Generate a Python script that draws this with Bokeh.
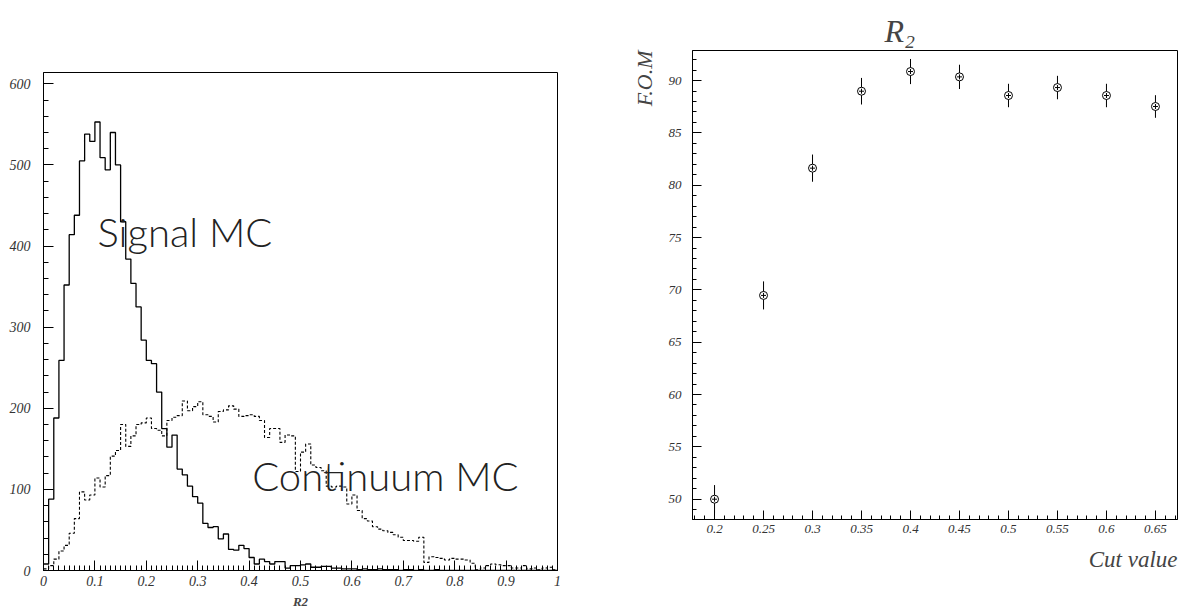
from bokeh.plotting import figure
from bokeh.layouts import row
from bokeh.models import FixedTicker, Label, Range1d, Title
from bokeh.embed import file_html
from bokeh.resources import INLINE

# ---------------- data ----------------
bin_lo = [round(i * 0.01, 2) for i in range(100)]
signal_mc = [8, 88, 188, 259, 352, 414, 438, 505, 538, 529,
             553, 509, 494, 540, 500, 430, 384, 354, 325, 284,
             259, 255, 220, 175, 152, 167, 125, 118, 104, 91,
             83, 58, 53, 54, 39, 45, 26, 25, 31, 27,
             16, 8, 14, 11, 8, 11, 11, 3, 6, 6,
             7, 8, 4, 4, 5, 5, 3, 3, 2, 2,
             2, 1, 2, 1, 1, 2, 1, 1, 1, 0,
             1, 1, 0, 1, 0, 0, 1, 0, 0, 0,
             0, 0, 0, 0, 0, 0, 0, 0, 0, 0,
             0, 0, 0, 0, 0, 0, 0, 0, 0, 0]
continuum_mc = [2, 6, 14, 24, 31, 46, 64, 97, 87, 93,
                114, 103, 117, 141, 148, 180, 153, 166, 180, 182,
                188, 175, 173, 166, 185, 189, 191, 209, 197, 202,
                208, 192, 190, 183, 196, 198, 203, 199, 190, 191,
                192, 190, 185, 164, 175, 175, 158, 167, 166, 122,
                146, 156, 130, 127, 123, 104, 103, 104, 103, 82,
                93, 74, 64, 61, 54, 51, 49, 47, 44, 41,
                37, 37, 36, 41, 10, 17, 16, 15, 13, 15,
                14, 14, 13, 9, 1, 3, 6, 8, 7, 6,
                6, 3, 3, 6, 2, 3, 1, 3, 4, 1]

left_xticks = [0, 0.1, 0.2, 0.3, 0.4, 0.5, 0.6, 0.7, 0.8, 0.9, 1.0]
left_xlabels = ["0", "0.1", "0.2", "0.3", "0.4", "0.5", "0.6", "0.7", "0.8", "0.9", "1"]
left_yticks = [0, 100, 200, 300, 400, 500, 600]

cut_value = [0.2, 0.25, 0.3, 0.35, 0.4, 0.45, 0.5, 0.55, 0.6, 0.65]
fom = [50.0, 69.47, 81.63, 88.98, 90.86, 90.35, 88.57, 89.33, 88.57, 87.52]
fom_err = [1.35, 1.34, 1.3, 1.27, 1.2, 1.16, 1.12, 1.12, 1.12, 1.08]
right_xticks = [0.2, 0.25, 0.3, 0.35, 0.4, 0.45, 0.5, 0.55, 0.6, 0.65]
right_xlabels = ["0.2", "0.25", "0.3", "0.35", "0.4", "0.45", "0.5", "0.55", "0.6", "0.65"]
right_yticks = [50, 55, 60, 65, 70, 75, 80, 85, 90]

SERIF = "Liberation Serif"
THIN = "'Lato Light', 'DejaVu Sans'"


def style_axes(p, tick_std_x, tick_std_y, maj, mnr, fsize):
    for ax, so in ((p.xaxis[0], tick_std_x), (p.yaxis[0], tick_std_y)):
        ax.major_tick_in = maj
        ax.major_tick_out = 0
        ax.minor_tick_in = mnr
        ax.minor_tick_out = 0
        ax.axis_line_color = "black"
        ax.major_tick_line_color = "black"
        ax.minor_tick_line_color = "black"
        ax.major_label_text_font = SERIF
        ax.major_label_text_font_style = "italic"
        ax.major_label_text_font_size = fsize
        ax.major_label_text_color = "#333333"
        ax.major_label_standoff = so
    p.xgrid.visible = False
    p.ygrid.visible = False
    p.outline_line_color = "black"
    p.outline_line_width = 1
    p.background_fill_color = "white"
    p.border_fill_color = "white"


# ---------------- left: histograms ----------------
p1 = figure(width=600, height=614, output_backend="svg", toolbar_location=None,
            x_range=Range1d(0, 1), y_range=Range1d(0, 614),
            min_border_left=43, min_border_right=43, min_border_top=72, min_border_bottom=44)
p1.frame_align = False
edges = bin_lo + [1.0]
p1.step(x=edges, y=signal_mc + [signal_mc[-1]], mode="after", line_color="black", line_width=1.3)
p1.step(x=edges, y=continuum_mc + [continuum_mc[-1]], mode="after", line_color="black",
        line_width=1.1, line_dash="3 2")

p1.xaxis.ticker = FixedTicker(ticks=left_xticks, minor_ticks=[i * 0.01 for i in range(101)])
p1.xaxis.major_label_overrides = {t: l for t, l in zip(left_xticks, left_xlabels)}
p1.yaxis.ticker = FixedTicker(ticks=left_yticks, minor_ticks=list(range(0, 620, 20)))
style_axes(p1, 5, 13, 10, 5, "14px")

p1.add_layout(Label(x=0.105, y=417, text="Signal MC", text_font=THIN, text_font_size="40px",
                    text_color="#222222", text_baseline="alphabetic"))
p1.add_layout(Label(x=0.406, y=117, text="Continuum MC", text_font=THIN, text_font_size="40px",
                    text_color="#222222", text_baseline="alphabetic"))
p1.add_layout(Title(text="R2", align="center", text_font=SERIF, text_font_style="bold italic",
                    text_font_size="13px", standoff=7), "below")

# ---------------- right: F.O.M vs cut ----------------
p2 = figure(width=589, height=614, output_backend="svg", toolbar_location=None,
            x_range=Range1d(0.1775, 0.6725), y_range=Range1d(48.06, 92.87),
            min_border_left=92, min_border_right=12, min_border_top=50, min_border_bottom=95)
p2.frame_align = False
lo = [v - e for v, e in zip(fom, fom_err)]
hi = [v + e for v, e in zip(fom, fom_err)]
p2.segment(x0=cut_value, y0=lo, x1=cut_value, y1=hi, line_color="black", line_width=1)
p2.scatter(x=cut_value, y=fom, marker="circle", size=8, fill_color="white",
           line_color="black", line_width=1)
p2.scatter(x=cut_value, y=fom, marker="cross", size=5, line_color="black", line_width=1)

p2.xaxis.ticker = FixedTicker(ticks=right_xticks,
                              minor_ticks=[round(0.18 + i * 0.01, 2) for i in range(50)])
p2.xaxis.major_label_overrides = {t: l for t, l in zip(right_xticks, right_xlabels)}
p2.yaxis.ticker = FixedTicker(ticks=right_yticks, minor_ticks=list(range(48, 93)))
style_axes(p2, 5, 11, 9, 4, "13px")

p2.add_layout(Title(text="R₂", align="left", offset=192, text_font=SERIF,
                    text_font_style="italic", text_font_size="32px", standoff=4), "above")
p2.add_layout(Title(text="Cut value", align="right", text_font=SERIF, text_font_style="italic",
                    text_font_size="23px", standoff=19), "below")
p2.add_layout(Title(text="F.O.M", align="right", text_font=SERIF, text_font_style="italic",
                    text_font_size="22px", standoff=18), "left")

layout = row(p1, p2)
open("out.html", "w").write(file_html(layout, INLINE))
